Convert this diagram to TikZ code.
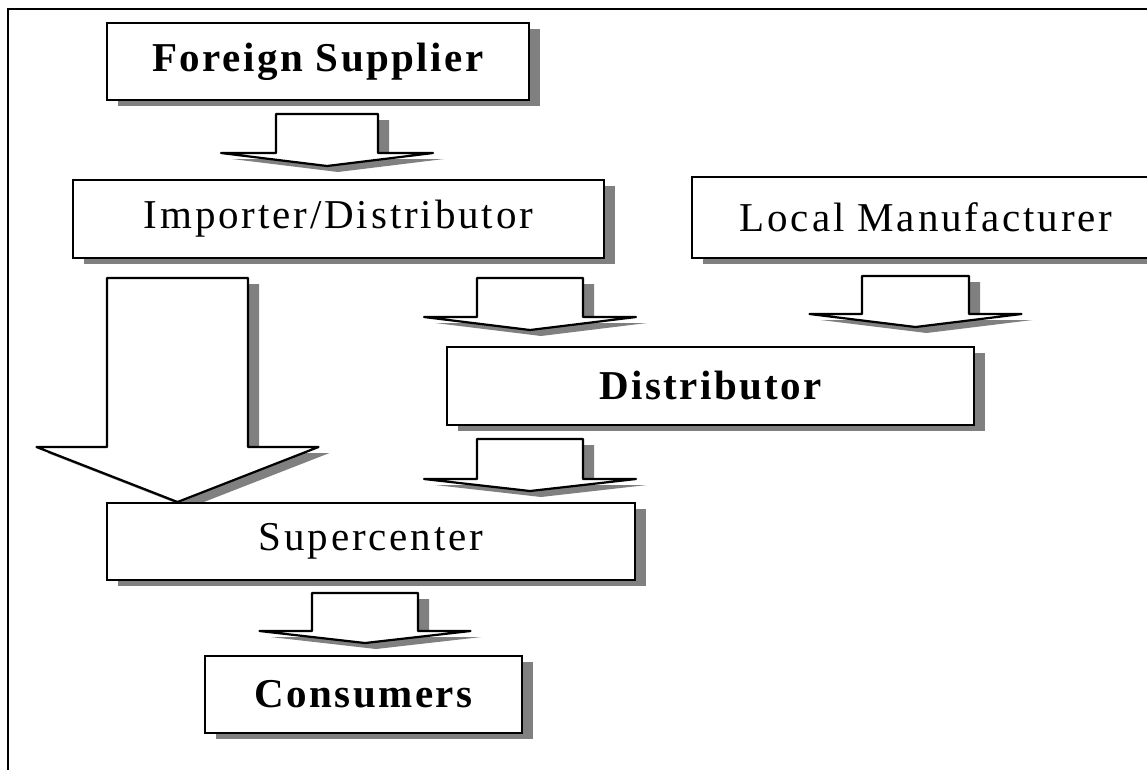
\documentclass[tikz,border=0pt]{standalone}
\usepackage{fontspec}
\setmainfont{Liberation Serif}
\newfontfamily\lsfont[LetterSpace=7]{Liberation Serif}
\newfontfamily\lsbfont[LetterSpace=6]{Liberation Serif Bold}
\usetikzlibrary{shadows}
\definecolor{shadowgray}{RGB}{128,128,128}
\tikzset{
  boxstyle/.style={draw=black, line width=2.4pt, fill=white, inner sep=0pt,
    drop shadow={shadow xshift=11pt, shadow yshift=-6pt, fill=shadowgray, opacity=1},
    font=\lsfont\fontsize{41}{44}\selectfont},
  boldbox/.style={boxstyle, font=\lsbfont\fontsize{41}{44}\selectfont},
  arrowline/.style={draw=black, line width=2.2pt, fill=white, line join=round},
  arrowshadow/.style={fill=shadowgray},
  framestyle/.style={draw=black, line width=2pt}
}
% #1 centre x, #2 top y, #3 half stem width, #4 neck y, #5 half head width, #6 tip y
\newcommand{\blockarr}[6]{%
  \path[arrowshadow, shift={(11,6)}] (#1-#3,#2) -- (#1+#3,#2) -- (#1+#3,#4) -- (#1+#5,#4) -- (#1,#6) -- (#1-#5,#4) -- (#1-#3,#4) -- cycle;
  \path[arrowline] (#1-#3,#2) -- (#1+#3,#2) -- (#1+#3,#4) -- (#1+#5,#4) -- (#1,#6) -- (#1-#5,#4) -- (#1-#3,#4) -- cycle;
}
\begin{document}
\begin{tikzpicture}[x=1pt, y=-1pt]
\useasboundingbox (0,0) rectangle (1147,769);
\fill[white] (0,0) rectangle (1147,769);
\begin{scope}
\clip (0,0) rectangle (1147,769);
\draw[framestyle] (8,800) -- (8,9) -- (1200,9);

% block arrows
\blockarr{327}{114}{51}{153}{106}{166}
\blockarr{177.5}{278}{70.5}{447}{141}{502}
\blockarr{530}{278}{53}{317}{106}{330}
\blockarr{530}{439}{53}{479}{106}{491}
\blockarr{915.5}{276}{53.5}{314}{106}{327}
\blockarr{365}{593}{53}{631}{105.5}{643}

% boxes
\node[boldbox, minimum width=422pt, minimum height=77pt] (fs) at (318,61.5) {Foreign Supplier};
\node[boxstyle, minimum width=531pt, minimum height=78pt] (imp) at (338.5,219) {Importer/Distributor};
\node[boxstyle, minimum width=468pt, minimum height=81pt] (lm) at (926,217.5) {Local Manufacturer};
\node[boldbox, minimum width=527pt, minimum height=78pt] (dist) at (710.5,386) {Distributor};
\node[boxstyle, minimum width=528pt, minimum height=77pt] (sc) at (371,541.5) {Supercenter};
\node[boldbox, minimum width=317pt, minimum height=77pt] (cons) at (363.5,694.5) {Consumers};
\end{scope}
\end{tikzpicture}
\end{document}
